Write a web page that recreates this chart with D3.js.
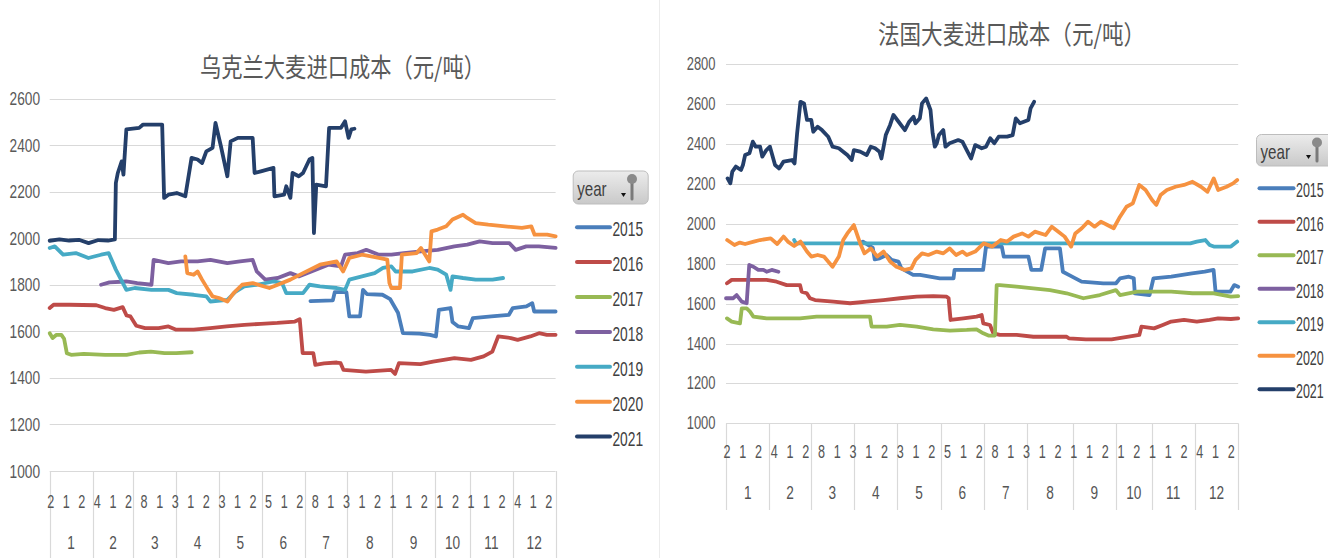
<!DOCTYPE html>
<html><head><meta charset="utf-8">
<script src="https://cdn.jsdelivr.net/npm/d3@7"></script>
<style>body{margin:0;background:#fff;overflow:hidden} svg{display:block}</style>
</head><body><svg id="c" width="1328" height="558"></svg>
<script>
// ---------- data ----------
const monthCounts = [22,21,22,22,22,22,22,23,22,18,22,22]; // trading days per month (categories)
const monthLabels = ["1","2","3","4","5","6","7","8","9","10","11","12"];
const dayTickLabels = ["2","1","2","4","1","2","8","1","3","1","2","3","1","2","5","1","2","8","1","3","1","2","1","1","2","1","2","1","1","2","4","1","2"];
const years = ["2015","2016","2017","2018","2019","2020","2021"];
const yTicksUA = [1000,1200,1400,1600,1800,2000,2200,2400,2600];
const yTicksFR = [1000,1200,1400,1600,1800,2000,2200,2400,2600,2800];
const titleUA = "乌克兰大麦进口成本（元/吨）";
const titleFR = "法国大麦进口成本（元/吨）";

// Ukraine: [day index, cost]
const ua2015 = [[134,1730],[145.5,1733],[146.5,1768],[152.5,1768],[154,1664],[159.5,1664],[161,1778],[163,1760],[171,1757],[175,1738],[179,1680],[181.5,1592],[190,1590],[195.5,1585],[198.5,1578],[200,1692],[206,1700],[207,1640],[210,1621],[215.5,1614],[217.5,1657],[227,1664],[236,1671],[238,1700],[245,1707],[248,1721],[249,1685],[260,1685]];
const ua2016 = [[0,1700],[2,1714],[10,1714],[24,1712],[28.5,1700],[33,1692],[37.5,1704],[39.5,1668],[41.5,1664],[44.5,1624],[49,1614],[56,1614],[61,1621],[65,1607],[74,1607],[82.5,1614],[91,1621],[100,1628],[108.5,1632],[117,1636],[126,1642],[128.5,1652],[130,1506],[135.5,1506],[136.5,1456],[141,1462],[147.5,1466],[149.5,1463],[151,1434],[162.5,1427],[175.5,1434],[177.5,1417],[179.5,1463],[190.5,1459],[197,1470],[208,1485],[216.5,1477],[223,1492],[227.5,1513],[230.5,1578],[237,1571],[240.5,1563],[247,1578],[251.5,1592],[255.5,1585],[260,1585]];
const ua2017 = [[0,1592],[1.5,1571],[3.5,1585],[6,1585],[7.4,1568],[8.8,1506],[11,1499],[17.5,1503],[28.5,1499],[39.5,1499],[46,1509],[52,1513],[59,1506],[65,1506],[73,1510]];
const ua2018 = [[26.4,1800],[30.7,1810],[39.4,1814],[45,1807],[52.3,1800],[53.4,1907],[61,1893],[67.5,1900],[76,1900],[82.6,1907],[91.3,1893],[97.8,1900],[104.3,1907],[106.4,1857],[110.8,1822],[117.2,1829],[123.7,1850],[128,1836],[134.5,1857],[143.2,1886],[149.7,1879],[151.8,1929],[158.3,1936],[162.7,1950],[169.2,1929],[175.6,1929],[182,1936],[190.8,1943],[199.4,1950],[208,1965],[214.6,1972],[221,1986],[227.6,1979],[236.2,1979],[239.5,1950],[244.9,1965],[251.4,1965],[260,1958]];
const ua2019 = [[0,1958],[2.6,1965],[6.9,1929],[13.4,1936],[19.9,1915],[26.4,1929],[30.3,1936],[34,1865],[39.4,1778],[43.7,1786],[52.3,1778],[61,1778],[65.3,1764],[74,1757],[80.5,1750],[82.6,1728],[91.3,1735],[95.6,1771],[100,1793],[106.4,1800],[115,1814],[119.4,1807],[121.6,1764],[130.2,1764],[133.5,1800],[138.9,1793],[147.5,1786],[151.8,1778],[154,1822],[160.5,1836],[167,1850],[171.3,1872],[175.6,1879],[177.8,1857],[186.5,1857],[195.1,1872],[199.4,1865],[203.8,1843],[206,1778],[207,1836],[212.4,1829],[218.9,1822],[227.6,1822],[233,1829]];
const ua2020 = [[69.7,1922],[70.7,1850],[74,1843],[76,1857],[78.3,1822],[81.5,1778],[83.7,1750],[87,1743],[91.3,1728],[94.5,1764],[98.9,1800],[104.3,1807],[112.9,1786],[117.2,1800],[123.7,1822],[130.2,1850],[138.9,1886],[147.5,1900],[150.8,1857],[154,1915],[160.5,1929],[169.2,1915],[173.5,1908],[174.6,1807],[175.6,1786],[180,1786],[181,1929],[188.6,1936],[190.8,1958],[195.1,1900],[196.2,2029],[199.4,2037],[203.8,2051],[207,2080],[212.4,2101],[214.6,2087],[218.9,2065],[225.4,2058],[234,2051],[242.7,2044],[247.5,2051],[249.2,2015],[255.7,2015],[260,2008]];
const ua2021 = [[0,1989],[5,1995],[10,1990],[15,1993],[20,1979],[25,1992],[30,1990],[33.5,1995],[34,2237],[35,2280],[37,2330],[37.9,2273],[39.4,2467],[46,2474],[48,2488],[57.8,2488],[58.8,2173],[61,2187],[65.3,2194],[69.7,2180],[72.9,2345],[76,2338],[78.3,2323],[80.5,2373],[83.7,2388],[85.2,2495],[88,2395],[91.3,2266],[93,2416],[96.7,2431],[104.3,2431],[105.3,2280],[108.5,2287],[115,2302],[115.5,2180],[120.5,2187],[121.6,2223],[123.7,2173],[124.8,2280],[128,2266],[130.2,2280],[133.5,2338],[135,2345],[135.8,2022],[137,2230],[142,2223],[143.6,2474],[149.7,2474],[151.8,2502],[153.6,2431],[155,2467],[156.6,2470]];

// France: [day index, cost]
const fr2015 = [[68.5,1905],[69.5,1911],[74.5,1880],[75.5,1822],[78,1827],[81.5,1844],[84,1819],[87.5,1811],[89,1777],[95,1744],[98.5,1744],[103.5,1735],[108.5,1727],[115.5,1727],[116,1769],[130.5,1769],[132,1886],[140,1886],[141,1836],[153.5,1836],[155,1769],[160,1769],[162,1877],[169.5,1877],[171,1760],[174,1744],[180.5,1710],[191.5,1702],[198,1702],[200,1727],[204.5,1735],[207,1727],[207.5,1652],[215,1643],[217,1727],[226,1735],[236.5,1752],[243,1760],[247.5,1769],[248.5,1660],[256,1660],[258,1693],[260,1685]];
const fr2016 = [[0.5,1702],[2.9,1719],[20.6,1719],[25.7,1710],[30.8,1693],[37.6,1693],[38.4,1660],[41,1652],[42.6,1627],[45.2,1618],[54.5,1610],[63,1602],[71.4,1610],[79.9,1618],[88.3,1627],[96.8,1635],[105.2,1638],[112,1635],[113,1627],[114,1518],[120.5,1526],[127.2,1535],[129.8,1543],[130.6,1501],[134,1493],[135.7,1451],[139,1443],[147.5,1443],[156,1434],[164.5,1434],[172.9,1434],[174,1426],[182.7,1421],[195.7,1421],[204.4,1434],[209.8,1443],[210.9,1485],[217.3,1476],[221.7,1493],[226,1510],[232.5,1518],[239,1510],[245.5,1518],[249.8,1526],[256.3,1523],[260,1526]];
const fr2017 = [[0.5,1526],[2.9,1510],[7.1,1501],[8,1576],[10.5,1576],[12.2,1560],[13.9,1535],[20.6,1526],[37.6,1526],[46,1535],[73.1,1535],[73.9,1485],[81.6,1485],[88.3,1493],[96.8,1485],[105.2,1471],[113.7,1465],[122.2,1468],[127.2,1471],[130.6,1451],[133.2,1440],[136.5,1440],[137.4,1693],[139,1693],[147.5,1685],[156,1677],[164.5,1668],[172.9,1652],[181.4,1627],[189.8,1643],[197.9,1668],[200,1643],[208.7,1660],[217.3,1660],[226,1660],[236.8,1652],[247.6,1652],[256.3,1635],[260,1638]];
const fr2018 = [[0,1627],[3.7,1627],[5.4,1643],[8,1610],[10.5,1602],[11.8,1794],[13.9,1785],[16.4,1769],[19,1769],[20.6,1760],[23.2,1769],[26.6,1760]];
const fr2019 = [[34.6,1919],[35.5,1902],[235.7,1902],[239,1911],[243.3,1919],[245.5,1894],[247.6,1886],[256.3,1886],[259.5,1911]];
const fr2020 = [[0.6,1919],[4.3,1894],[7,1906],[9.7,1899],[14.1,1911],[17.3,1919],[22.7,1927],[26,1899],[29.2,1936],[31.4,1911],[34.6,1889],[37.8,1911],[41.1,1861],[43.3,1836],[46.5,1844],[49.7,1836],[54.1,1785],[57.3,1836],[59.5,1919],[61.6,1952],[64.9,1994],[68.1,1902],[70.3,1852],[73.5,1877],[76.8,1836],[80,1861],[83.3,1811],[86.5,1785],[90.8,1769],[94.1,1777],[96.2,1819],[99.5,1852],[102.7,1844],[107,1861],[110.3,1852],[113.5,1877],[116.8,1844],[120,1861],[122.2,1844],[126.5,1861],[130.8,1902],[135.2,1886],[139.5,1919],[142.7,1911],[146,1936],[150.3,1952],[153.5,1936],[156.8,1961],[162.2,1944],[165.4,1986],[168.7,1961],[171.9,1936],[175.2,1886],[177.3,1952],[180.6,1978],[183.8,2011],[187.1,1986],[190.3,2011],[193.6,1994],[196.8,1978],[200,2036],[203.3,2086],[206.5,2103],[209.8,2195],[213,2170],[216.3,2120],[218.4,2095],[220.6,2145],[223.8,2170],[228.2,2186],[232.5,2195],[236.8,2211],[241.1,2186],[244.4,2161],[247.6,2228],[249.8,2170],[254.1,2186],[257.4,2203],[259.5,2220]];
const fr2021 = [[0.8,2228],[2.2,2203],[3.2,2262],[5,2287],[7.6,2270],[8.6,2295],[9.7,2345],[11.9,2354],[13.6,2412],[15.1,2387],[17.3,2387],[18.4,2337],[20.5,2370],[22.3,2387],[24.9,2295],[27,2278],[29.2,2312],[33.5,2320],[34.8,2303],[36.1,2454],[37.8,2612],[39.6,2604],[41.1,2521],[43.3,2521],[44.3,2462],[46.5,2487],[48.7,2470],[51.9,2437],[54.1,2387],[57.3,2379],[59.5,2362],[61.6,2345],[63.8,2320],[64.9,2370],[68.1,2362],[71.4,2345],[73.5,2387],[75.7,2379],[77.9,2362],[78.9,2328],[81.1,2445],[83.3,2496],[85,2546],[87.6,2512],[90.8,2470],[93,2512],[95.2,2537],[96.2,2504],[98.4,2529],[99.5,2604],[101.6,2629],[103.8,2571],[104.9,2454],[106,2387],[107,2404],[108.1,2445],[110.3,2470],[111.4,2387],[113.5,2404],[117.9,2420],[120,2412],[122.2,2370],[124.4,2328],[126.5,2395],[129.8,2379],[132,2387],[134.1,2429],[136.2,2404],[138.4,2437],[142.7,2437],[145.5,2445],[147.1,2529],[149.2,2504],[153.5,2521],[154.6,2579],[156.4,2612]];

const seriesUA = [ua2015, ua2016, ua2017, ua2018, ua2019, ua2020, ua2021];
const seriesFR = [fr2015, fr2016, fr2017, fr2018, fr2019, fr2020, fr2021];
const colors = ["#4a7ebb","#be4b48","#98b954","#7d60a0","#46aac5","#f69240","#243f6a"];

// ---------- drawing ----------
const svg = d3.select("#c");
const numFont = "'Liberation Sans', Arial, sans-serif";
const cjkFont = "'Noto Sans CJK SC', sans-serif";

function squeeze(sel, factor){
  sel.each(function(){
    const w = this.getComputedTextLength();
    this.setAttribute("textLength", (w*factor).toFixed(2));
    this.setAttribute("lengthAdjust", "spacingAndGlyphs");
  });
}
function fitWidth(sel, width){
  sel.attr("textLength", width).attr("lengthAdjust", "spacingAndGlyphs");
}

const defs = svg.append("defs");
const grad = defs.append("linearGradient").attr("id","btn").attr("x1",0).attr("y1",0).attr("x2",0).attr("y2",1);
grad.append("stop").attr("offset","0%").attr("stop-color","#ececec");
grad.append("stop").attr("offset","100%").attr("stop-color","#c9c9c9");

// faint divider between panels
svg.append("line").attr("x1",659.5).attr("x2",659.5).attr("y1",0).attr("y2",558)
  .attr("stroke","#ececec").attr("stroke-width",1);

function drawChart(cfg){
  const g = svg.append("g");
  const bounds = [0, ...Array.from(d3.cumsum(monthCounts))];
  const total = bounds[bounds.length-1];
  const x = d3.scaleLinear().domain([0, total]).range([cfg.x0, cfg.x1]);
  const y = d3.scaleLinear().domain(cfg.yDomain).range(cfg.yRange);

  // title
  g.append("text").attr("x", cfg.titleX).attr("y", cfg.titleY)
    .attr("text-anchor","middle").attr("dominant-baseline","central")
    .attr("font-family", cjkFont).attr("font-size", 26).attr("fill","#595959")
    .text(cfg.title).call(fitWidth, cfg.titleW);

  // gridlines
  g.selectAll(".grid").data(cfg.yTicks).enter().append("line")
    .attr("x1", cfg.x0).attr("x2", cfg.x1)
    .attr("y1", d => Math.round(y(d))+0.5).attr("y2", d => Math.round(y(d))+0.5)
    .attr("stroke","#d9d9d9").attr("stroke-width",1.2);

  // y labels
  g.selectAll(".yl").data(cfg.yTicks).enter().append("text")
    .attr("x", cfg.yLabelX).attr("y", d => y(d))
    .attr("text-anchor","end").attr("dominant-baseline","central")
    .attr("font-family", numFont).attr("font-size", cfg.yFont).attr("fill","#595959")
    .text(d => d).call(squeeze, 0.74);

  // month separators
  g.selectAll(".sep").data(bounds).enter().append("line")
    .attr("x1", d => Math.round(x(d))+0.5).attr("x2", d => Math.round(x(d))+0.5)
    .attr("y1", y(cfg.yDomain[0])).attr("y2", cfg.sepBottom)
    .attr("stroke","#d9d9d9").attr("stroke-width",1.2);

  // day tick labels (every 8th category)
  g.selectAll(".dl").data(dayTickLabels).enter().append("text")
    .attr("x", (d,i) => x(i*8+0.5)).attr("y", cfg.dayLabelY)
    .attr("text-anchor","middle").attr("dominant-baseline","central")
    .attr("font-family", numFont).attr("font-size", 17.5).attr("fill","#555")
    .text(d => d).call(squeeze, 0.72);

  // month labels
  g.selectAll(".ml").data(monthLabels).enter().append("text")
    .attr("x", (d,i) => x((bounds[i]+bounds[i+1])/2)).attr("y", cfg.monthLabelY)
    .attr("text-anchor","middle").attr("dominant-baseline","central")
    .attr("font-family", numFont).attr("font-size", 17.5).attr("fill","#555")
    .text(d => d).call(squeeze, 0.78);

  // lines
  const line = d3.line().x(d => x(d[0])).y(d => y(d[1]));
  g.selectAll(".series").data(cfg.series).enter().append("path")
    .attr("d", line).attr("fill","none")
    .attr("stroke", (d,i) => colors[i]).attr("stroke-width", 3.8)
    .attr("stroke-linejoin","round").attr("stroke-linecap","round");

  // legend button
  const b = cfg.btn;
  const bg = g.append("g");
  bg.append("rect").attr("x", b.x).attr("y", b.y).attr("width", b.w).attr("height", b.h)
    .attr("rx", 5).attr("fill","url(#btn)").attr("stroke","#bdbdbd");
  bg.append("text").attr("x", b.x+4).attr("y", b.y + b.h/2 + 1)
    .attr("dominant-baseline","central").attr("font-family", numFont)
    .attr("font-size", 21).attr("fill","#404040").text("year").call(squeeze, 0.72);
  // filter pin icon
  bg.append("path").attr("d", `M${b.pin-5},${b.y+b.h-11} l5,0 l-2.5,4 z`).attr("fill","#111");
  bg.append("line").attr("x1", b.pin+6).attr("x2", b.pin+6).attr("y1", b.y+9).attr("y2", b.y+b.h-5)
    .attr("stroke","#7a7a7a").attr("stroke-width",3).attr("stroke-linecap","round");
  bg.append("circle").attr("cx", b.pin+6).attr("cy", b.y+8).attr("r",5)
    .attr("fill","#8a8a8a");

  // legend items
  const L = cfg.legend;
  const li = g.selectAll(".li").data(years).enter().append("g");
  li.append("line").attr("x1", L.x0).attr("x2", L.x1)
    .attr("y1", (d,i) => L.y0 + i*L.dy).attr("y2", (d,i) => L.y0 + i*L.dy)
    .attr("stroke", (d,i) => colors[i]).attr("stroke-width", 4).attr("stroke-linecap","round");
  li.append("text")
    .attr("transform", (d,i) => `translate(${L.tx},${L.y0 + i*L.dy + 2}) scale(${L.f},1)`)
    .attr("x", 0).attr("y", 0)
    .attr("dominant-baseline","central").attr("font-family", numFont)
    .attr("font-size", L.fs).attr("fill","#404040").text(d => d);
}

drawChart({
  title: titleUA, titleX: 342.5, titleY: 65, titleW: 285,
  x0: 49.7, x1: 555.6, yDomain: [1000, 2600], yRange: [471, 98.5], yTicks: yTicksUA,
  yLabelX: 40, yFont: 18.5, dayLabelY: 501.7, monthLabelY: 543, sepBottom: 558,
  series: seriesUA,
  btn: {x: 573.2, y: 171, w: 75, h: 33, pin: 626},
  legend: {x0: 577, x1: 610, tx: 612.4, y0: 227.2, dy: 34.9, f: 0.69, fs: 20}
});
drawChart({
  title: titleFR, titleX: 1011.5, titleY: 32, titleW: 267,
  x0: 726, x1: 1238.2, yDomain: [1000, 2800], yRange: [423.3, 64.3], yTicks: yTicksFR,
  yLabelX: 715.5, yFont: 17.5, dayLabelY: 451.7, monthLabelY: 492.7, sepBottom: 510,
  series: seriesFR,
  btn: {x: 1256.5, y: 134.5, w: 80, h: 31.5, pin: 1311},
  legend: {x0: 1259.5, x1: 1293.5, tx: 1296, y0: 188.3, dy: 33.5, f: 0.64, fs: 19.5}
});
</script></body></html>
